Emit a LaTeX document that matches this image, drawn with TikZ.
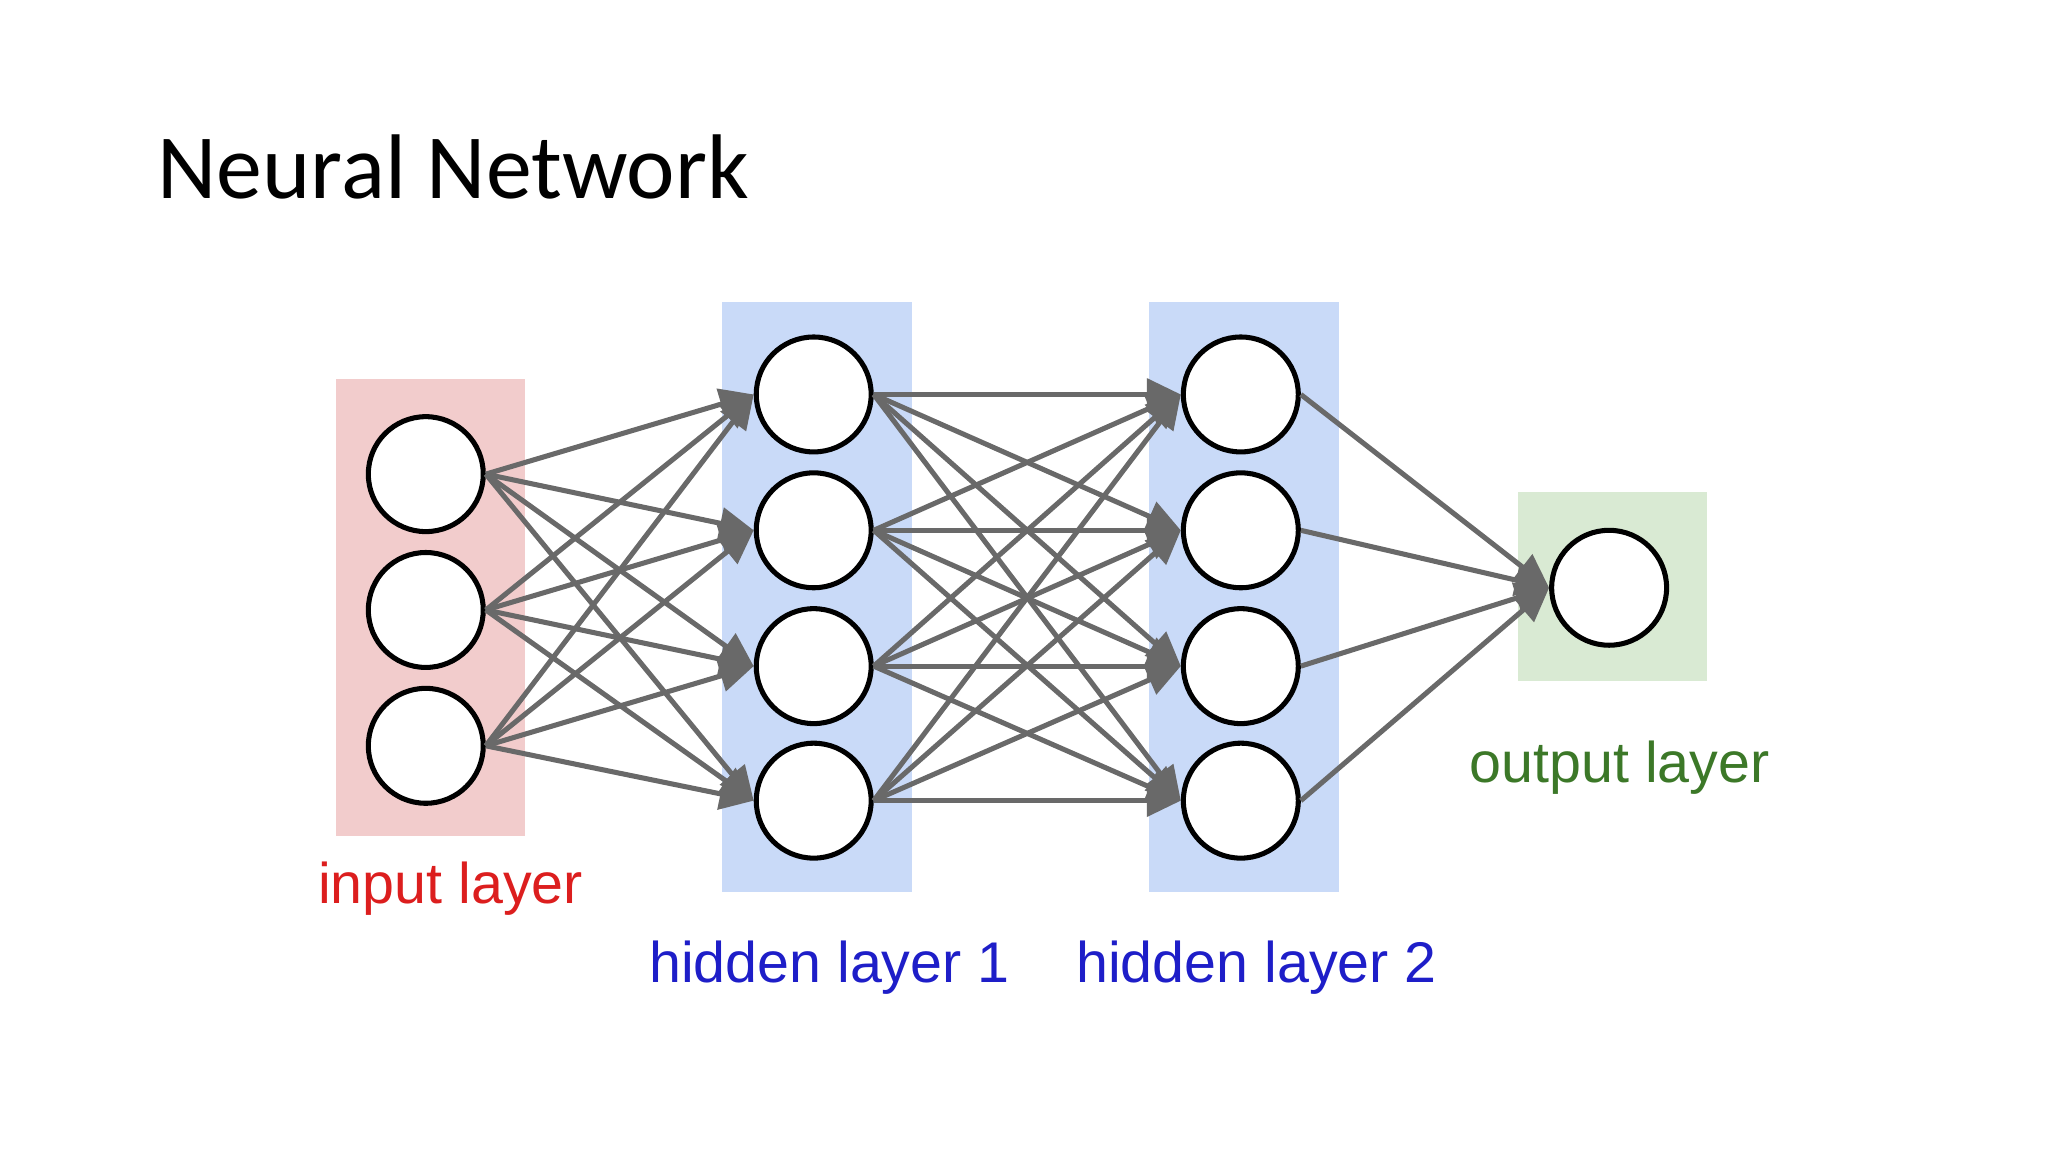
\documentclass[tikz,border=0pt]{standalone}
\usepackage{fontspec}
\setmainfont{Liberation Sans}
\newfontfamily\titlefont{Carlito}
\usetikzlibrary{arrows.meta}
\definecolor{inred}{RGB}{242,204,204}
\definecolor{hidblue}{RGB}{201,218,248}
\definecolor{outgreen}{RGB}{217,234,211}
\definecolor{lblred}{RGB}{220,30,30}
\definecolor{lblblue}{RGB}{30,30,200}
\definecolor{lblgreen}{RGB}{60,120,40}
\definecolor{edge}{RGB}{105,105,105}
\begin{document}
\begin{tikzpicture}[x=0.1mm,y=-0.1mm,
  neuron/.style={circle,draw=black,line width=1.1pt,fill=white,minimum size=8.8mm,inner sep=0pt},
  conn/.style={draw=edge,line width=1.1pt,-{Triangle[length=2.6mm,width=2.4mm]}},
  lbl/.style={font=\fontsize{12.5}{14}\selectfont}]
\useasboundingbox (0,0) rectangle (1568,882);
\node[anchor=base west,font=\titlefont\fontsize{20}{24}\selectfont,inner sep=0pt] (title) at (120,152) {Neural Network};
\fill[inred] (257,290) rectangle (402,640);
\fill[hidblue] (553,231) rectangle (698,683);
\fill[hidblue] (880,231) rectangle (1025,683);
\fill[outgreen] (1162,377) rectangle (1307,521);
\foreach \i/\y in {1/363,2/467,3/571} \node[neuron] (i\i) at (326,\y) {};
\foreach \i/\y in {1/302,2/406,3/510,4/613} {
  \node[neuron] (a\i) at (623,\y) {};
  \node[neuron] (b\i) at (950,\y) {};
}
\node[neuron] (o) at (1232,450) {};
\foreach \i in {1,2,3} \foreach \j in {1,2,3,4} \draw[conn] (i\i.east) -- (a\j.west);
\foreach \i in {1,2,3,4} \foreach \j in {1,2,3,4} \draw[conn] (a\i.east) -- (b\j.west);
\foreach \i in {1,2,3,4} \draw[conn] (b\i.east) -- (o.west);
\node[lbl,text=lblred] (l1) at (345,680) {input layer};
\node[lbl,text=lblblue] (l2) at (635,741) {hidden layer 1};
\node[lbl,text=lblblue] (l3) at (962,741) {hidden layer 2};
\node[lbl,text=lblgreen] (l4) at (1240,588) {output layer};
\end{tikzpicture}
\end{document}
